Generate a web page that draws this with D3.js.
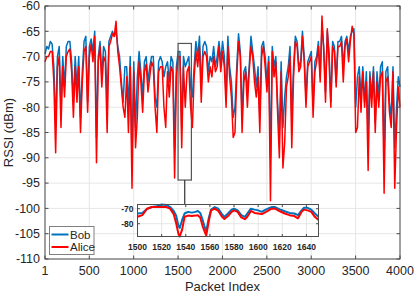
<!DOCTYPE html>
<html>
<head>
<meta charset="utf-8">
<script src="https://cdn.jsdelivr.net/npm/d3@7"></script>
<style>
  body { margin: 0; background: #fff; }
  svg { display: block; font-family: "Liberation Sans", Arial, sans-serif; }
</style>
</head>
<body>
<svg id="chart" width="415" height="296"></svg>
<script>
// RSSI samples, one every 20 packets
var bobRssi = [
  -69.5,-68,-68.5,-67,-67.5,-72,-84,-70,-68,-80,
  -70,-76,-68,-67,-67,-71,-79,-70,-76,-70,
  -82,-73,-67,-66,-79,-68,-66.5,-69,-65,-86,
  -70,-67,-74,-68,-69,-79,-67,-66,-65,-66,
  -65,-68,-70,-75,-79,-72,-72,-80,-70,-90,
  -71,-84,-74,-69,-73,-78,-71,-70,-75,-72,
  -70,-70,-78,-80,-71,-70,-71,-74,-72,-71,
  -75,-70,-71,-88,-72,-69,-69,-84,-70,-72,
  -71,-70,-76,-78,-72,-67,-70,-66,-76,-68,
  -67,-68,-73,-70,-71,-68,-72,-70,-67,-71,
  -67,-70,-78,-66,-72,-75,-82,-80,-72,-65.5,
  -69,-82,-73,-72,-77,-72,-66,-69,-72,-76,
  -72,-82,-68,-67,-70,-75,-70,-90,-68,-72,
  -70,-79,-86,-71,-84,-78,-74,-72,-68,-82,
  -72,-66,-67,-72,-71,-65,-70,-78,-71,-70,
  -69,-80,-71,-70,-67,-74,-64,-68,-77,-65,
  -69,-79,-67,-68,-75,-67,-67,-66,-72,-67,
  -66,-69,-66,-65,-64.5,-80,-74,-72,-78,-72,
  -79,-73,-85,-73,-78,-72,-83,-73,-78,-72,
  -71,-90,-73,-72,-79,-82,-72,-88,-80,-74,
  -76
];
var aliceRssi = [
  -71,-70,-70,-69,-69,-75,-89,-72,-70,-84,
  -72,-78,-70,-69,-68.5,-73,-82,-72,-79,-72,
  -85,-75,-69,-68,-81,-70,-67.5,-71,-66,-91,
  -71,-68,-76,-70,-71,-85,-68,-67,-65.5,-66,
  -63,-69,-72,-76,-80,-82,-74,-85,-72,-96,
  -73,-88,-82,-71,-75,-81,-73,-71.5,-77,-74,
  -71,-72,-80,-85,-73,-72,-72,-80,-84,-73,
  -78,-72,-73,-94,-74,-70,-70,-88,-72,-80,
  -73,-72,-80,-84,-74,-69,-72,-68,-79,-70,
  -69,-70,-75,-72,-74,-70,-73,-72,-68,-73,
  -69,-72,-80,-68,-74,-78,-86,-85,-74,-67,
  -70,-85,-75,-73,-80,-73,-68,-70,-75,-78,
  -74,-85,-70,-68,-72,-77,-71,-98.5,-69,-74,
  -71,-81,-90,-73,-92,-87,-76,-74,-70,-88,
  -74,-67,-68,-73,-72,-66,-71,-80,-72,-71,
  -70,-82,-73,-71,-68,-75,-62,-69,-79,-64.5,
  -71,-80,-68,-69,-76,-68,-68,-67,-75,-68,
  -66.5,-71,-67,-64,-65.5,-85,-84,-74,-81,-73,
  -80,-75,-92.5,-74,-80,-73,-85,-75,-80,-74,
  -73,-97,-75,-74,-81,-84,-73,-96,-84,-76,
  -80
];
var packetIdx = d3.range(1, 4000, 20).concat([4000]);

// zoomed window 1500..1650
var insetPackets = [1500,1504,1508,1512,1516,1520,1524,1527,1530,1532,1534,1535,1537,1539,
  1542,1545,1548,1550,1552,1554,1556,1557,1559,1561,1564,1567,1570,1572,1575,1578,1580,
  1583,1586,1589,1591,1594,1597,1600,1603,1605,1608,1611,1614,1618,1622,1626,1630,1633,
  1636,1638,1641,1644,1647,1650];
var insetBob = [-73.2,-72.8,-70,-68.9,-68.3,-67.2,-67.5,-68.9,-71.5,-74.5,-81.7,-82.8,-77.5,-73.2,
  -72.1,-72.6,-72.1,-71.5,-72.8,-77.5,-83,-84.9,-76.4,-70.6,-68.9,-70,-73.6,-75.4,-73.2,-70.6,-70,
  -71.1,-74.3,-75.4,-73.2,-70,-70.6,-71.1,-72.1,-71.1,-70,-68.9,-68.9,-70.4,-71.7,-72.8,-73.2,-74.3,
  -71.1,-69.4,-69.4,-70.6,-73.2,-75.4];
var insetAlice = [-75.4,-74.3,-70,-68.9,-68.9,-68.9,-68.9,-70,-73.6,-79.6,-87,-88.5,-83.9,-75.4,
  -74.6,-74.9,-74.6,-74.3,-75.8,-81.7,-86,-87.7,-78.5,-71.1,-70,-71.5,-75.4,-76.8,-74.9,-72.1,-71.1,
  -72.1,-75.8,-77,-75.4,-71.5,-72.8,-73.2,-73.6,-72.8,-71.5,-70,-70,-71.7,-73.2,-74.3,-74.9,-76.4,
  -72.1,-70.6,-71.1,-72.1,-75.4,-77.5];

var xTicks = [1, 500, 1000, 1500, 2000, 2500, 3000, 3500, 4000];
var yTicks = d3.range(-110, -59, 5);
var insetXTicks = [1500, 1520, 1540, 1560, 1580, 1600, 1620, 1640];
var insetYTicks = [-70, -80];
var zoomBoxX = [1500, 1650];
var zoomBoxY = [-94.4, -67.4];

var seriesNames = ["Bob", "Alice"];
var seriesColors = ["#0072BD", "#FF0000"];

var svg = d3.select("#chart");
var axisColor = "#4d4d4d";
var gridColor = "#e6e6e6";

var mLeft = 45, mRight = 400, mTop = 6, mBottom = 259;
var x_scale = d3.scaleLinear().domain([1, 4000]).range([mLeft, mRight]);
var y_scale = d3.scaleLinear().domain([-110, -60]).range([mBottom, mTop]);

// grid
svg.append("g").selectAll("line").data(xTicks).enter().append("line")
  .attr("x1", d => x_scale(d)).attr("x2", d => x_scale(d))
  .attr("y1", mTop).attr("y2", mBottom)
  .attr("stroke", gridColor).attr("stroke-width", 1);
svg.append("g").selectAll("line").data(yTicks).enter().append("line")
  .attr("x1", mLeft).attr("x2", mRight)
  .attr("y1", d => y_scale(d)).attr("y2", d => y_scale(d))
  .attr("stroke", gridColor).attr("stroke-width", 1);

// series
var mainLine = d3.line()
  .x((d, i) => x_scale(packetIdx[i]))
  .y(d => y_scale(d));
[bobRssi, aliceRssi].forEach(function(s, k) {
  svg.append("path").datum(s)
    .attr("d", mainLine)
    .attr("fill", "none")
    .attr("stroke", seriesColors[k])
    .attr("stroke-width", 1.5)
    .attr("stroke-linejoin", "round");
});

// axes box with inward ticks
function drawAxes(g, xs, ys, xt, yt, tickLen, fontSize, weight, xPad, yPad) {
  var x0 = xs.range()[0], x1 = xs.range()[1];
  var y0 = ys.range()[0], y1 = ys.range()[1];
  g.append("rect").attr("x", x0).attr("y", y1)
    .attr("width", x1 - x0).attr("height", y0 - y1)
    .attr("fill", "none").attr("stroke", axisColor).attr("stroke-width", 1);
  xt.forEach(function(t) {
    var px = xs(t);
    g.append("line").attr("x1", px).attr("x2", px).attr("y1", y0).attr("y2", y0 - tickLen).attr("stroke", axisColor);
    g.append("line").attr("x1", px).attr("x2", px).attr("y1", y1).attr("y2", y1 + tickLen).attr("stroke", axisColor);
    g.append("text").attr("x", px).attr("y", y0 + xPad)
      .attr("text-anchor", "middle").attr("font-size", fontSize).attr("font-weight", weight)
      .attr("fill", "#262626").text(t);
  });
  yt.forEach(function(t) {
    var py = ys(t);
    g.append("line").attr("x1", x0).attr("x2", x0 + tickLen).attr("y1", py).attr("y2", py).attr("stroke", axisColor);
    g.append("line").attr("x1", x1).attr("x2", x1 - tickLen).attr("y1", py).attr("y2", py).attr("stroke", axisColor);
    g.append("text").attr("x", x0 - yPad).attr("y", py).attr("dy", "0.35em")
      .attr("text-anchor", "end").attr("font-size", fontSize).attr("font-weight", weight)
      .attr("fill", "#262626").text(t);
  });
}
drawAxes(svg.append("g"), x_scale, y_scale, xTicks, yTicks, 3.5, 12.5, "normal", 16, 5);

svg.append("text").attr("x", (mLeft + mRight) / 2).attr("y", 291)
  .attr("text-anchor", "middle").attr("font-size", 13).attr("fill", "#262626")
  .text("Packet Index");
svg.append("text").attr("transform", "translate(12.5," + ((mTop + mBottom) / 2) + ") rotate(-90)")
  .attr("text-anchor", "middle").attr("font-size", 13).attr("fill", "#262626")
  .text("RSSI (dBm)");

// zoom box + connector
var bx0 = x_scale(zoomBoxX[0]), bx1 = x_scale(zoomBoxX[1]);
var by0 = y_scale(zoomBoxY[1]), by1 = y_scale(zoomBoxY[0]);
svg.append("rect").attr("x", bx0).attr("y", by0)
  .attr("width", bx1 - bx0).attr("height", by1 - by0)
  .attr("fill", "none").attr("stroke", "#555").attr("stroke-width", 1.2);

// inset
var ix0 = 137.5, ix1 = 318.5, iy0 = 204.5, iy1 = 236.5;
svg.append("line").attr("x1", (bx0 + bx1) / 2).attr("x2", (bx0 + bx1) / 2)
  .attr("y1", by1).attr("y2", iy0).attr("stroke", "#333").attr("stroke-width", 1.2);

var ix_scale = d3.scaleLinear().domain(zoomBoxX).range([ix0, ix1]);
var iyExt = d3.extent(insetBob.concat(insetAlice));
var iy_scale = d3.scaleLinear().domain(iyExt).range([iy1, iy0]);
var inset = svg.append("g");
inset.append("rect").attr("x", ix0).attr("y", iy0).attr("width", ix1 - ix0).attr("height", iy1 - iy0)
  .attr("fill", "#fff");
inset.append("g").selectAll("line").data(insetXTicks).enter().append("line")
  .attr("x1", d => ix_scale(d)).attr("x2", d => ix_scale(d))
  .attr("y1", iy0).attr("y2", iy1).attr("stroke", gridColor);
inset.append("g").selectAll("line").data(insetYTicks).enter().append("line")
  .attr("x1", ix0).attr("x2", ix1)
  .attr("y1", d => iy_scale(d)).attr("y2", d => iy_scale(d)).attr("stroke", gridColor);
var insetLine = d3.line()
  .x((d, i) => ix_scale(insetPackets[i]))
  .y(d => iy_scale(d));
[insetBob, insetAlice].forEach(function(s, k) {
  inset.append("path").datum(s)
    .attr("d", insetLine)
    .attr("fill", "none")
    .attr("stroke", seriesColors[k])
    .attr("stroke-width", 2)
    .attr("stroke-linejoin", "round");
});
drawAxes(inset, ix_scale, iy_scale, insetXTicks, insetYTicks, 2.5, 8.5, "bold", 13, 4);

// legend
var legend = svg.append("g");
legend.append("rect").attr("x", 49.5).attr("y", 226.5).attr("width", 44.5).attr("height", 28)
  .attr("fill", "#fff").attr("stroke", "#808080").attr("stroke-width", 1);
seriesNames.forEach(function(name, k) {
  var ly = 234.5 + k * 12.5;
  legend.append("line").attr("x1", 51.5).attr("x2", 68.5).attr("y1", ly).attr("y2", ly)
    .attr("stroke", seriesColors[k]).attr("stroke-width", 2);
  legend.append("text").attr("x", 70).attr("y", ly).attr("dy", "0.35em")
    .attr("font-size", 11.5).attr("fill", "#262626").text(name);
});
</script>
</body>
</html>
